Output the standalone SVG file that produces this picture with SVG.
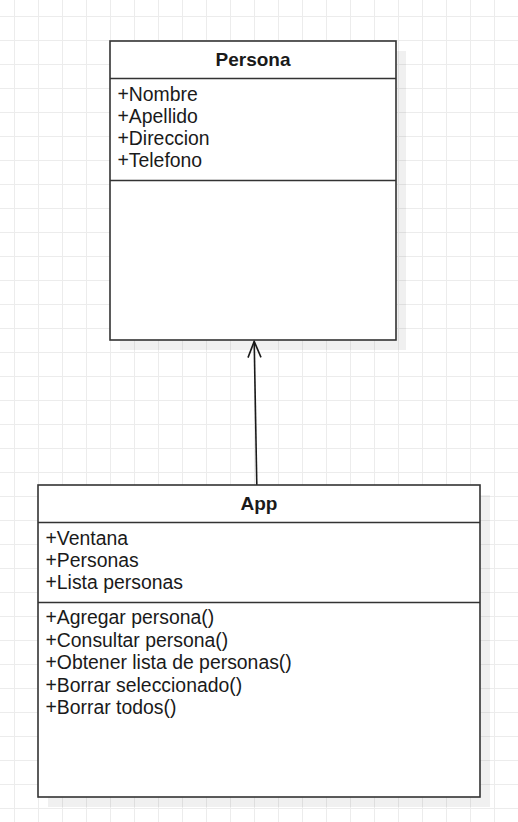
<svg xmlns="http://www.w3.org/2000/svg" width="518" height="822" viewBox="0 0 518 822">
<style>
.box{fill:#ffffff;stroke:#333333;stroke-width:1.6}
.div{stroke:#333333;stroke-width:1.6;fill:none}
.shadow{fill:#000000;fill-opacity:0.06}
.title{font-family:"Liberation Sans",Arial,sans-serif;font-size:19px;font-weight:bold;fill:#1a1a1a;text-anchor:middle}
.txt{font-family:"Liberation Sans",Arial,sans-serif;font-size:19.4px;fill:#1a1a1a}
.edge{stroke:#1a1a1a;stroke-width:1.6;fill:none}
</style>
<defs>
<pattern id="grid" width="24" height="24" patternUnits="userSpaceOnUse" x="14" y="16">
<path d="M0 0.5H24M0.5 0V24" stroke="#ececec" stroke-width="1" fill="none"/>
</pattern>
<marker id="open" viewBox="0 0 20 20" refX="18" refY="10" markerWidth="20" markerHeight="20" markerUnits="userSpaceOnUse" orient="auto">
<path d="M2 3.5L18 10L2 16.5" fill="none" stroke="#1a1a1a" stroke-width="1.6"/>
</marker>
</defs>
<rect width="518" height="822" fill="#ffffff"/>
<rect width="518" height="822" fill="url(#grid)"/>
<g id="connectors">
<path class="edge" d="M256.8 485L254.2 341.5" marker-end="url(#open)"/>
</g>
<g id="persona">
<rect class="shadow" x="120" y="51" width="286" height="299"/>
<rect class="box" x="110" y="41" width="286" height="299"/>
<path class="div" d="M110 78.5H396M110 180.5H396"/>
<text class="title" x="253" y="65.5">Persona</text>
<text class="txt" x="117.5" y="100.7">+Nombre</text>
<text class="txt" x="117.5" y="122.9">+Apellido</text>
<text class="txt" x="117.5" y="145.1">+Direccion</text>
<text class="txt" x="117.5" y="167.3">+Telefono</text>
</g>
<g id="app">
<rect class="shadow" x="48" y="495" width="442" height="312"/>
<rect class="box" x="38" y="485" width="442" height="312"/>
<path class="div" d="M38 522.5H480M38 602.5H480"/>
<text class="title" x="259" y="510">App</text>
<text class="txt" x="45.5" y="545">+Ventana</text>
<text class="txt" x="45.5" y="567.2">+Personas</text>
<text class="txt" x="45.5" y="589.4">+Lista personas</text>
<text class="txt" x="45.5" y="624.3">+Agregar persona()</text>
<text class="txt" x="45.5" y="646.7">+Consultar persona()</text>
<text class="txt" x="45.5" y="669.1">+Obtener lista de personas()</text>
<text class="txt" x="45.5" y="691.5">+Borrar seleccionado()</text>
<text class="txt" x="45.5" y="713.9">+Borrar todos()</text>
</g>
</svg>
